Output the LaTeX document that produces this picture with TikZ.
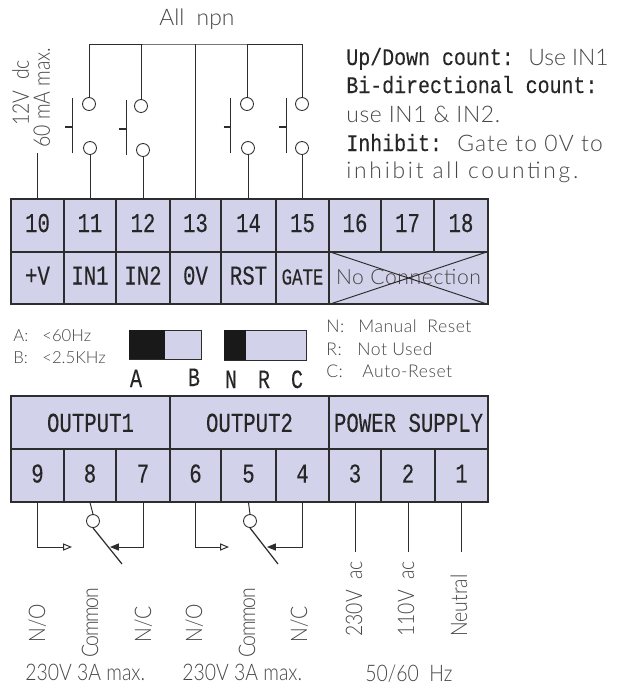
\documentclass[tikz,border=0pt]{standalone}
\usepackage{fontspec}
\usepackage{tikz}
\usetikzlibrary{arrows.meta}
\setmainfont{Lato Light}
\newfontfamily\tightfont[FakeStretch=0.85]{Lato Light}
\newfontfamily\monofont[FakeStretch=0.76,FakeBold=0.25]{Liberation Mono}
\newfontfamily\notefont[FakeStretch=0.84,FakeBold=0.2]{Liberation Mono}
\definecolor{cellfill}{RGB}{210,210,234}
\definecolor{wirecol}{RGB}{45,45,45}
\definecolor{thincol}{RGB}{70,70,70}
\tikzset{
  cell/.style={draw=wirecol,fill=cellfill,line width=0.7pt,inner sep=0pt,text height=7.4pt,text depth=0pt,font=\monofont\fontsize{15.5}{15}\selectfont,text=black!85},
  contact/.style={draw=wirecol,circle,line width=0.5pt,minimum size=0.26cm,inner sep=0pt},
  wire/.style={draw=wirecol,line width=0.55pt},
  thinlbl/.style={inner sep=0pt,anchor=base west,text=thincol,font=\fontsize{13}{13}\selectfont},
  tightlbl/.style={thinlbl,font=\tightfont\fontsize{13}{13}\selectfont},
  smalllbl/.style={thinlbl,font=\fontsize{9.5}{10}\selectfont},
  widelbl/.style={thinlbl,font=\fontsize{10}{10}\selectfont\addfontfeature{LetterSpace=3}},
  vertlbl/.style={tightlbl,rotate=90},
  boldlbl/.style={inner sep=0pt,anchor=base,text=black!85,font=\monofont\fontsize{15}{15}\selectfont},
  notelbl/.style={inner sep=0pt,anchor=base west,text=black!85,font=\notefont\fontsize{13.5}{14}\selectfont}
}
\newcommand{\termcell}[6]{\node[cell,minimum width={(#3-#2)*0.02cm},minimum height={(#5-#4)*0.02cm}] (#1) at ({(#2+#3)/2},{(#4+#5)/2}) {#6};}
\begin{document}
\begin{tikzpicture}[x=0.02cm,y=-0.02cm]
\useasboundingbox (0,0) rectangle (627,683);

% Upper terminal block
\foreach \nm/\xa/\xb/\txt in {t10/11/64/10,t11/64/116/11,t12/116/170/12,t13/170/221/13,t14/221/276/14,t15/276/329/15,t16/329/381/16,t17/381/434/17,t18/434/488/18}{
  \termcell{\nm}{\xa}{\xb}{199}{252}{\txt}
}
\foreach \nm/\xa/\xb/\txt in {l10/11/64/+V,l11/64/116/IN1,l12/116/170/IN2,l13/170/221/0V,l14/221/276/RST}{
  \termcell{\nm}{\xa}{\xb}{252}{304}{\txt}
}
\termcell{l15}{276}{329}{252}{304}{\fontsize{13}{13}\selectfont GATE}
\termcell{nocon}{329}{488}{252}{304}{\rmfamily\fontsize{12}{12}\selectfont\addfontfeature{LetterSpace=3}\color{thincol}No Connection}
\draw[wire] (nocon.north west) -- (nocon.south east);
\draw[wire] (nocon.south west) -- (nocon.north east);

% Lower terminal block
\tikzset{cell/.append style={text height=10.6pt}}
\termcell{o1}{11}{170}{396}{449}{OUTPUT1}
\termcell{o2}{170}{329}{396}{449}{OUTPUT2}
\termcell{ps}{329}{488}{396}{449}{POWER SUPPLY}
\tikzset{cell/.append style={text height=8pt}}
\foreach \nm/\xa/\xb/\txt in {t9/11/64/9,t8/64/116/8,t7/116/170/7,t6/170/221/6,t5/221/276/5,t4/276/329/4,t3/329/381/3,t2/381/435/2,t1/435/488/1}{
  \termcell{\nm}{\xa}{\xb}{449}{502}{\txt}
}

% Push buttons
\foreach \nm/\xt/\xb/\ya in {a/89/90/104,b/141/143/106,c/247/248/104,d/302/302/104}{
  \node[contact] (up\nm) at (\xt,\ya) {};
  \node[contact] (dn\nm) at (\xb,\ya+44) {};
}
\foreach \xs/\ys in {72/98,126/100,230.5/98,286/98}{
  \draw[wire] (\xs,\ys) -- (\xs,\ys+55);
  \draw[wire,line width=1.2pt] (\xs-7,\ys+29) -- (\xs,\ys+29);
}
\coordinate (bus) at (194,44);
\draw[wire] (upa.north) |- (bus) -| (upd.north);
\draw[wire] (upb.north) -- (upb.north |- bus);
\draw[wire] (upc.north) -- (upc.north |- bus);
\draw[wire] (t13.north) -- (t13.north |- bus);
\draw[wire] (dna.south) -- (dna.south |- t11.north);
\draw[wire] (dnb.south) -- (dnb.south |- t12.north);
\draw[wire] (dnc.south) -- (dnc.south |- t14.north);
\draw[wire] (dnd.south) -- (dnd.south |- t15.north);
\coordinate (vtop) at (37.5,153);
\draw[wire] (t10.north) -- (vtop);

% DIP switches
\draw[wire,fill=cellfill] (129,330) rectangle (201,359);
\fill[black!90] (129,330) rectangle (165,359);
\draw[wire,fill=cellfill] (224,330) rectangle (306,360);
\fill[black!90] (224,330) rectangle (246,360);
\node[boldlbl] (swa) at (136,387) {A};
\node[boldlbl] (swb) at (194,386) {B};
\node[boldlbl] (swn) at (231,388) {N};
\node[boldlbl] (swr) at (264,388) {R};
\node[boldlbl] (swc) at (297,388) {C};

% Relay contacts
\coordinate (noa) at (72,547);
\coordinate (nca) at (110,547);
\coordinate (nob) at (229,547);
\coordinate (ncb) at (267,547);
\node[contact] (coma) at (93,521) {};
\node[contact] (comb) at (250,521) {};
\coordinate (bladea) at (122,564);
\coordinate (bladeb) at (278,564);
\draw[wire,-{Triangle[open,length=5pt,width=4pt]}] (t9.south) |- (noa);
\draw[wire,-{Triangle[open,length=5pt,width=4pt]}] (t6.south) |- (nob);
\draw[wire,-{Triangle[length=5pt,width=4pt]}] (t7.south) |- (nca);
\draw[wire,-{Triangle[length=5pt,width=4pt]}] (t4.south) |- (ncb);
\draw[wire] (t8.south) -- (coma.north);
\draw[wire] (t5.south) -- (comb.north);
\draw[wire,line width=0.7pt] (coma.south) -- (bladea);
\draw[wire,line width=0.7pt] (comb.south) -- (bladeb);

% Supply wires
\coordinate (supend) at (0,552);
\foreach \nm in {t3,t2,t1}{
  \draw[wire] (\nm.south) -- (\nm.south |- supend);
}

% Thin labels
\node[thinlbl] (npn) at (159,25) {All\ \ npn};
\node[vertlbl] (v12) at (29,126) {12V\ \ dc};
\node[vertlbl] (ma60) at (50,148) {60 mA max.};
\node[smalllbl] (ka) at (13,341) {A:};
\node[smalllbl] (kah) at (42,341) {<60Hz};
\node[smalllbl] (kb) at (13,363) {B:};
\node[smalllbl] (kbh) at (42,363) {<2.5KHz};
\node[widelbl] (mn) at (326,332) {N:};
\node[widelbl] (mnt) at (358,332) {Manual\ \ Reset};
\node[widelbl] (mr) at (326,355) {R:};
\node[widelbl] (mrt) at (357,355) {Not Used};
\node[widelbl] (mc) at (326,377) {C:};
\node[widelbl] (mct) at (362,377) {Auto-Reset};

% Relay and supply labels
\foreach \nm/\xs/\ys/\txt in {na/45/643/N\slash O,ca/98/658/\addfontfeature{LetterSpace=-6}Common,nc/151/643/N\slash C,nb/202/643/N\slash O,cb/255/658/\addfontfeature{LetterSpace=-6}Common,nd/307/643/N\slash C,p3/362/637/230V\ \ ac,p2/414/637/110V\ \ ac,p1/467/637/Neutral}{
  \node[vertlbl] (\nm) at (\xs,\ys) {\txt};
}
\node[tightlbl] (rat1) at (25,680) {230V 3A max.};
\node[tightlbl] (rat2) at (182,680) {230V 3A max.};
\node[tightlbl] (hz) at (365,681) {50/60\ \ Hz};

% Notes
\node[notelbl] (n1) at (346,65) {Up/Down count:};
\node[thinlbl] (n1b) at (528,65) {Use IN1};
\node[notelbl] (n2) at (346,93) {Bi-directional count:};
\node[thinlbl,font=\fontsize{13}{13}\selectfont\addfontfeature{LetterSpace=3}] (n3) at (346,122) {use IN1 \& IN2.};
\node[notelbl] (n4) at (346,151) {Inhibit:};
\node[thinlbl,font=\fontsize{13}{13}\selectfont\addfontfeature{LetterSpace=5}] (n4b) at (457,151) {Gate to 0V to};
\node[thinlbl,font=\fontsize{13}{13}\selectfont\addfontfeature{LetterSpace=12}] (n5) at (346,178) {inhibit all counting.};
\end{tikzpicture}
\end{document}
